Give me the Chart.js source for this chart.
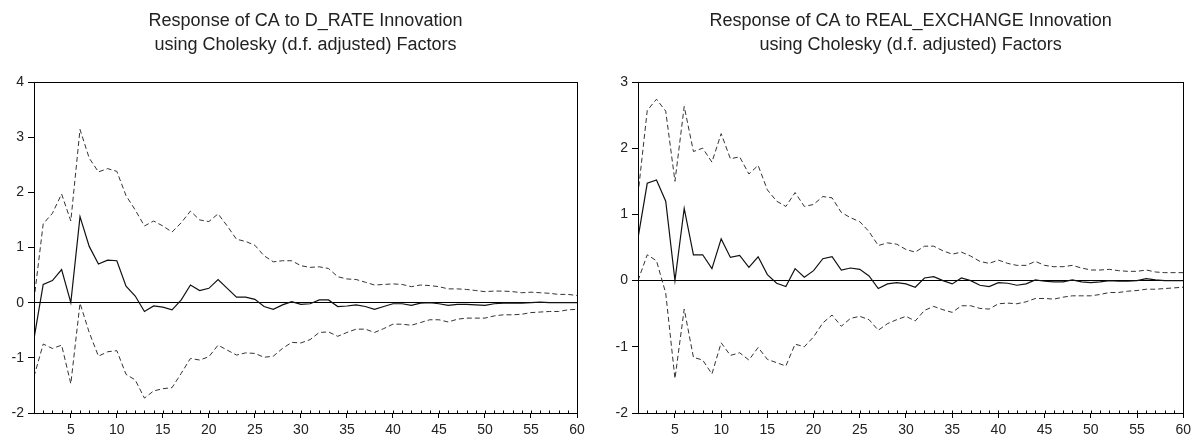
<!DOCTYPE html>
<html><head><meta charset="utf-8">
<script src="https://cdn.jsdelivr.net/npm/chart.js@4.4.1/dist/chart.umd.min.js"></script>
<style>
html,body{margin:0;padding:0;background:#fff;}
#wrap{position:relative;width:1195px;height:439px;overflow:hidden;}
canvas{position:absolute;top:0;}
</style></head><body>
<div id="wrap">
<canvas id="c1" width="597" height="439" style="left:0"></canvas>
<canvas id="c2" width="598" height="439" style="left:597px"></canvas>
</div>
<script>
const periods = [1,2,3,4,5,6,7,8,9,10,11,12,13,14,15,16,17,18,19,20,
  21,22,23,24,25,26,27,28,29,30,31,32,33,34,35,36,37,38,39,40,
  41,42,43,44,45,46,47,48,49,50,51,52,53,54,55,56,57,58,59,60];

const titleA = ["Response of CA to D_RATE Innovation", "using Cholesky (d.f. adjusted) Factors"];
const titleB = ["Response of CA to REAL_EXCHANGE Innovation", "using Cholesky (d.f. adjusted) Factors"];

const yTicksA = [-2,-1,0,1,2,3,4];
const yTicksB = [-2,-1,0,1,2,3];

const respA = [-0.65,0.33,0.40,0.60,0.00,1.56,1.02,0.70,0.77,0.76,
 0.30,0.12,-0.16,-0.06,-0.08,-0.13,0.05,0.32,0.22,0.26,
 0.42,0.26,0.10,0.10,0.06,-0.07,-0.12,-0.04,0.02,-0.03,
 -0.02,0.05,0.05,-0.07,-0.06,-0.04,-0.07,-0.12,-0.07,-0.02,
 -0.02,-0.05,-0.01,0.00,-0.02,-0.05,-0.03,-0.03,-0.04,-0.05,
 -0.02,-0.01,-0.01,-0.01,0.00,0.01,0.00,0.00,0.00,0.00];
const upperA = [0.05,1.43,1.62,1.97,1.48,3.14,2.62,2.37,2.43,2.38,
 1.94,1.68,1.39,1.48,1.39,1.28,1.45,1.66,1.50,1.47,
 1.61,1.39,1.15,1.11,1.04,0.85,0.74,0.76,0.76,0.67,
 0.64,0.65,0.62,0.47,0.43,0.42,0.37,0.32,0.33,0.34,
 0.33,0.29,0.32,0.31,0.29,0.25,0.25,0.24,0.22,0.20,
 0.21,0.21,0.20,0.18,0.19,0.18,0.17,0.15,0.15,0.13];
const lowerA = [-1.34,-0.75,-0.83,-0.77,-1.47,-0.01,-0.54,-0.97,-0.89,-0.87,
 -1.30,-1.40,-1.73,-1.60,-1.56,-1.54,-1.28,-1.01,-1.04,-0.98,
 -0.77,-0.86,-0.95,-0.91,-0.92,-0.99,-0.97,-0.83,-0.72,-0.73,
 -0.67,-0.54,-0.53,-0.61,-0.54,-0.48,-0.48,-0.54,-0.47,-0.39,
 -0.39,-0.41,-0.36,-0.31,-0.31,-0.35,-0.30,-0.28,-0.28,-0.28,
 -0.24,-0.22,-0.22,-0.21,-0.18,-0.17,-0.16,-0.16,-0.13,-0.12];

const respB = [0.64,1.47,1.52,1.20,0.00,1.09,0.39,0.39,0.18,0.63,
 0.35,0.38,0.20,0.36,0.09,-0.04,-0.09,0.18,0.05,0.15,
 0.33,0.36,0.16,0.19,0.17,0.07,-0.12,-0.05,-0.03,-0.05,
 -0.10,0.04,0.06,0.00,-0.05,0.04,0.00,-0.07,-0.09,-0.03,
 -0.04,-0.07,-0.05,0.01,-0.01,-0.02,-0.02,0.01,-0.02,-0.03,
 -0.02,0.00,-0.01,-0.01,0.00,0.03,0.01,0.00,0.00,0.00];
const upperB = [1.30,2.57,2.74,2.56,1.50,2.63,1.95,2.00,1.79,2.22,
 1.84,1.87,1.61,1.74,1.37,1.20,1.12,1.33,1.12,1.15,
 1.27,1.25,1.03,0.95,0.89,0.74,0.53,0.57,0.55,0.47,
 0.43,0.52,0.52,0.45,0.40,0.43,0.37,0.29,0.26,0.31,
 0.26,0.23,0.23,0.29,0.23,0.21,0.21,0.23,0.19,0.16,
 0.16,0.17,0.15,0.14,0.14,0.16,0.13,0.12,0.12,0.12];
const lowerB = [0.00,0.39,0.30,-0.19,-1.48,-0.43,-1.16,-1.20,-1.41,-0.94,
 -1.13,-1.09,-1.20,-1.01,-1.19,-1.24,-1.29,-0.96,-1.00,-0.85,
 -0.64,-0.52,-0.69,-0.57,-0.54,-0.59,-0.75,-0.65,-0.59,-0.54,
 -0.61,-0.45,-0.39,-0.44,-0.48,-0.38,-0.38,-0.42,-0.43,-0.35,
 -0.34,-0.35,-0.32,-0.27,-0.27,-0.28,-0.25,-0.23,-0.23,-0.23,
 -0.21,-0.18,-0.18,-0.16,-0.15,-0.13,-0.13,-0.12,-0.11,-0.10];

const FONT = "'Liberation Sans', Arial, sans-serif";

const framePlugin = {
  id: 'frame',
  afterDraw(chart, args, opts) {
    const ctx = chart.ctx, a = chart.chartArea;
    ctx.save();
    ctx.strokeStyle = '#000';
    ctx.lineWidth = 1;
    ctx.strokeRect(Math.round(a.left) + 0.5, Math.round(a.top) + 0.5,
                   Math.round(a.right - a.left), Math.round(a.bottom - a.top));
    const xs = chart.scales.x;
    const yb = Math.round(a.bottom) + 0.5;
    ctx.beginPath();
    xs.ticks.forEach(t => {
      const px = Math.round(xs.getPixelForValue(t.value)) + 0.5;
      ctx.moveTo(px, yb);
      ctx.lineTo(px, yb - 3);
    });
    ctx.stroke();
    ctx.fillStyle = '#222';
    ctx.font = '18px ' + FONT;
    ctx.textAlign = 'center';
    ctx.textBaseline = 'middle';
    const cx = (a.left + a.right) / 2;
    ctx.fillText(opts.lines[0], cx, 21);
    ctx.fillText(opts.lines[1], cx, 45);
    ctx.restore();
  }
};

function makeChart(id, resp, upper, lower, yTicks, title, yWidth, padRight) {
  const toPts = arr => periods.map((p, i) => ({x: p, y: arr[i]}));
  const dashed = {borderColor: '#333', borderWidth: 1, borderDash: [5, 3], pointRadius: 0, tension: 0, fill: false};
  return new Chart(document.getElementById(id), {
    type: 'line',
    data: {
      datasets: [
        {label: 'upper', data: toPts(upper), ...dashed},
        {label: 'response', data: toPts(resp), borderColor: '#111', borderWidth: 1.2, pointRadius: 0, tension: 0, fill: false},
        {label: 'lower', data: toPts(lower), ...dashed}
      ]
    },
    options: {
      responsive: false,
      animation: false,
      layout: {padding: {left: 0, right: padRight, top: 82, bottom: 0}},
      plugins: {legend: {display: false}, tooltip: {enabled: false}, title: {display: false},
                frame: {lines: title}},
      scales: {
        x: {
          type: 'linear', min: 1, max: 60,
          afterFit: s => { s.height = 26; },
          border: {display: true, color: '#000', width: 1},
          grid: {drawOnChartArea: false, drawTicks: true, tickLength: 5,
                 tickColor: c => (c.tick && c.tick.value % 5 === 0) ? '#000' : 'rgba(0,0,0,0)'},
          ticks: {stepSize: 1, autoSkip: false, maxRotation: 0, padding: 4, color: '#222',
                  font: {size: 14, family: FONT},
                  callback: v => (v % 5 === 0 ? String(v) : '')}
        },
        y: {
          min: yTicks[0], max: yTicks[yTicks.length - 1],
          afterFit: s => { s.width = yWidth; },
          afterBuildTicks: s => { s.ticks = yTicks.map(v => ({value: v})); },
          border: {display: true, color: '#000', width: 1},
          grid: {drawOnChartArea: true, drawTicks: true, tickLength: 6, tickColor: '#000',
                 color: c => (c.tick && c.tick.value === 0) ? '#000' : 'rgba(0,0,0,0)', lineWidth: 1},
          ticks: {padding: 4, color: '#222', font: {size: 14, family: FONT}}
        }
      }
    },
    plugins: [framePlugin]
  });
}

makeChart('c1', respA, upperA, lowerA, yTicksA, titleA, 34, 20);
makeChart('c2', respB, upperB, lowerB, yTicksB, titleB, 41, 8);
</script>
</body></html>
